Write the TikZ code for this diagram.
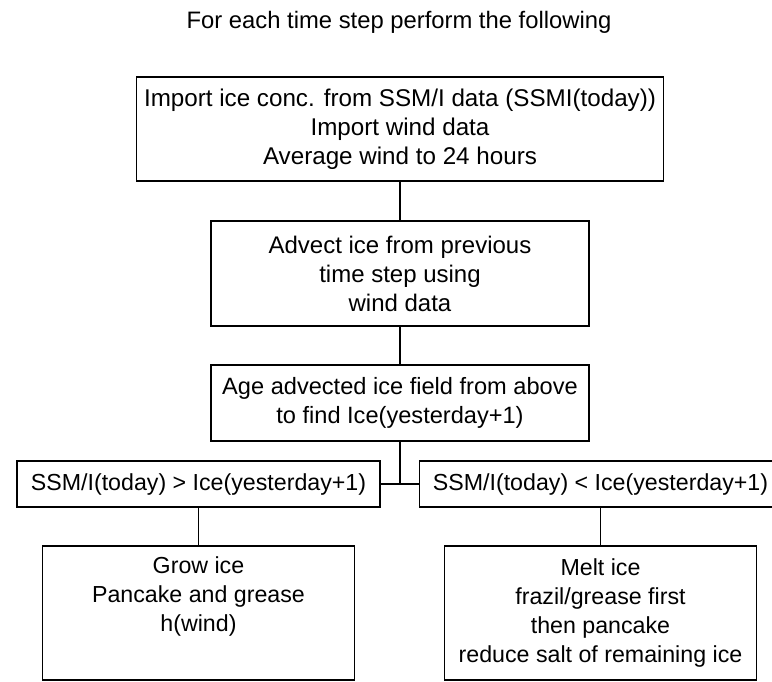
\documentclass[tikz,border=0pt]{standalone}
\usepackage{fontspec}
\setmainfont{Liberation Sans}
\usetikzlibrary{positioning}

\begin{document}
\begin{tikzpicture}[x=1pt, y=-1pt, font=\fontsize{23.8}{29}\selectfont,
    box/.style={draw, line width=1.4pt, align=center, inner sep=0pt},
    link/.style={line width=1.4pt}]
  \useasboundingbox (0,0) rectangle (772,681);
  \node[anchor=base] (title) at (399,28) {For each time step perform the following};
  \foreach \nm/\x/\y/\w/\h/\fs/\txt in {
      imp/400/129/527/104/24.2/{Import ice conc. from SSM/I data (SSMI(today))\\ Import wind data\\ Average wind to 24 hours},
      adv/400/273.5/378/105/24/{Advect ice from previous\\ time step using\\ wind data},
      age/400/403/378/76/23.6/{Age advected ice field from above\\ to find Ice(yesterday+1)},
      gt/198.5/484/363/46/23.2/{SSM/I(today) > Ice(yesterday+1)},
      lt/600.5/484/362/46/23.2/{SSM/I(today) < Ice(yesterday+1)},
      grow/198.5/613/312/134/23.2/{Grow ice\\ Pancake and grease\\ h(wind)\\ \strut},
      melt/600.5/613/312/134/23.2/{Melt ice\\ frazil/grease first\\ then pancake\\ reduce salt of remaining ice}} {
    \node[box, minimum width=\w, minimum height=\h, font=\fontsize{\fs}{29}\selectfont]
      (\nm) at (\x,\y) {\txt};
  }
  \coordinate (fork) at (age.south |- gt.east);
  \draw[link] (imp) -- (adv);
  \draw[link] (adv) -- (age);
  \draw[link] (age) -- (fork);
  \draw[link] (gt) -- (lt);
  \draw[link] (gt) -- (grow);
  \draw[link] (lt) -- (melt);
\end{tikzpicture}
\end{document}
